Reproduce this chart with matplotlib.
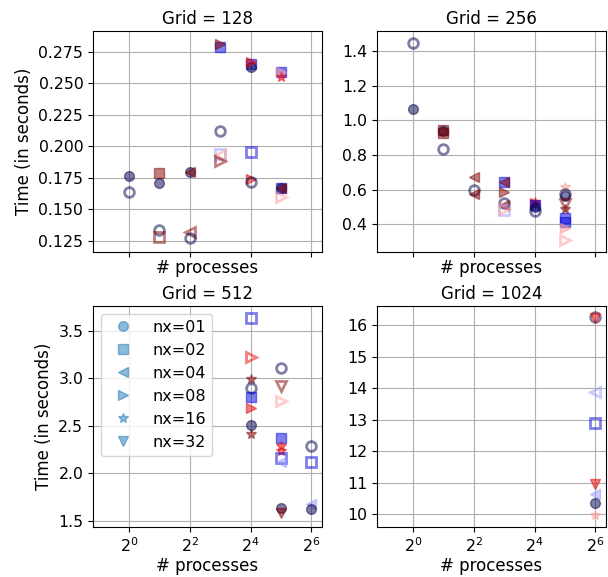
import matplotlib
matplotlib.use('Agg')
import matplotlib.pyplot as plt
from matplotlib.lines import Line2D
from matplotlib.ticker import LogFormatterSciNotation, NullLocator

plt.rcParams['font.size'] = 12
plt.rcParams['xtick.labelsize'] = 11.3
plt.rcParams['ytick.labelsize'] = 11.3
plt.rcParams['axes.titlesize'] = 12
plt.rcParams['legend.fontsize'] = 11.5

nx_values = [1, 2, 4, 8, 16, 32]
nx_markers = {1: 'o', 2: 's', 4: '<', 8: '>', 16: '*', 32: 'v'}

# tone: 0 navy .. 5 dark red (seismic); solid False -> open marker
g128_procs = [1, 1, 2, 2, 2, 2, 4, 4, 4, 4, 8, 8, 8, 8, 8, 8,
              16, 16, 16, 16, 16, 16, 32, 32, 32, 32, 32, 32, 32]
g128_time = [0.1760, 0.1641, 0.1786, 0.1712, 0.1332, 0.1279, 0.1799, 0.1799, 0.1319, 0.1271,
             0.2790, 0.2810, 0.2121, 0.1937, 0.1930, 0.1879,
             0.2650, 0.2631, 0.2665, 0.1953, 0.1741, 0.1715,
             0.2591, 0.2588, 0.2547, 0.1672, 0.1672, 0.1672, 0.1596]
g128_nx = [1, 1, 2, 1, 1, 2, 1, 4, 4, 1, 2, 8, 1, 2, 4, 8,
           2, 1, 8, 2, 8, 1, 2, 8, 16, 2, 1, 4, 8]
g128_tone = [0, 0, 5, 0, 0, 5, 0, 5, 5, 0, 1, 5, 0, 2, 3, 5,
             1, 0, 4, 1, 4, 0, 1, 3, 4, 1, 0, 5, 3]
g128_solid = [1, 0, 1, 1, 0, 0, 1, 1, 0, 0, 1, 1, 0, 0, 0, 0,
              1, 1, 1, 0, 1, 0, 1, 1, 1, 1, 1, 1, 0]

g256_procs = [1, 1, 2, 2, 2, 2, 4, 4, 4, 8, 8, 8, 8, 8, 8, 8,
              16, 16, 16, 16, 16, 32, 32, 32, 32, 32, 32, 32, 32, 32]
g256_time = [1.448, 1.067, 0.945, 0.940, 0.925, 0.834, 0.675, 0.596, 0.573,
             0.646, 0.646, 0.588, 0.524, 0.510, 0.481, 0.490,
             0.530, 0.520, 0.510, 0.500, 0.478,
             0.615, 0.572, 0.565, 0.518, 0.485, 0.437, 0.412, 0.379, 0.307]
g256_nx = [1, 1, 2, 1, 2, 1, 4, 1, 4, 2, 4, 8, 1, 4, 2, 8,
           16, 8, 2, 1, 1, 16, 1, 1, 32, 16, 2, 2, 8, 8]
g256_tone = [0, 0, 5, 0, 5, 0, 5, 0, 5, 1, 5, 5, 0, 5, 2, 3,
             4, 4, 1, 0, 0, 3, 0, 0, 5, 5, 1, 1, 3, 3]
g256_solid = [0, 1, 1, 1, 1, 0, 1, 0, 1, 1, 1, 1, 0, 1, 0, 0,
              1, 1, 1, 1, 0, 1, 0, 1, 0, 1, 1, 1, 1, 0]

g512_procs = [16, 16, 16, 16, 16, 16, 16, 16,
              32, 32, 32, 32, 32, 32, 32, 32, 32, 32, 64, 64, 64, 64]
g512_time = [3.631, 3.228, 2.988, 2.892, 2.804, 2.687, 2.504, 2.415,
             3.104, 2.917, 2.765, 2.369, 2.291, 2.228, 2.157, 2.122, 1.638, 1.581,
             2.281, 2.115, 1.673, 1.620]
g512_nx = [2, 8, 16, 1, 2, 8, 1, 16,
           1, 32, 8, 2, 16, 16, 2, 4, 1, 32, 1, 2, 4, 1]
g512_tone = [1, 4, 5, 0, 1, 4, 0, 5,
             0, 5, 3, 1, 4, 4, 1, 2, 0, 5, 0, 1, 2, 0]
g512_solid = [0, 0, 1, 0, 1, 1, 1, 1,
              0, 0, 0, 1, 1, 1, 0, 1, 1, 1, 0, 0, 1, 1]

g1024_procs = [64, 64, 64, 64, 64, 64, 64, 64]
g1024_time = [16.245, 16.21, 13.87, 12.91, 10.95, 10.64, 10.37, 9.99]
g1024_nx = [1, 32, 4, 2, 32, 4, 1, 16]
g1024_tone = [0, 4, 2, 1, 4, 2, 0, 3]
g1024_solid = [0, 1, 0, 0, 1, 1, 1, 1]

panels = [
    ('Grid = 128', g128_procs, g128_time, g128_nx, g128_tone, g128_solid,
     (0.1158, 0.2914), [0.125, 0.150, 0.175, 0.200, 0.225, 0.250, 0.275]),
    ('Grid = 256', g256_procs, g256_time, g256_nx, g256_tone, g256_solid,
     (0.237, 1.516), [0.4, 0.6, 0.8, 1.0, 1.2, 1.4]),
    ('Grid = 512', g512_procs, g512_time, g512_nx, g512_tone, g512_solid,
     (1.433, 3.765), [1.5, 2.0, 2.5, 3.0, 3.5]),
    ('Grid = 1024', g1024_procs, g1024_time, g1024_nx, g1024_tone, g1024_solid,
     (9.6, 16.62), [10, 11, 12, 13, 14, 15, 16]),
]

fig, axes = plt.subplots(2, 2, figsize=(6.08, 5.77), dpi=100, sharex=True)
fig.subplots_adjust(left=0.153, right=0.9967, top=0.9463, bottom=0.0867,
                    wspace=0.24, hspace=0.24)

cmap = plt.cm.seismic
for ax, (title, procs, times, nxs, tones, solids, ylim, yticks) in zip(axes.flat, panels):
    for p, t, n, c, s in zip(procs, times, nxs, tones, solids):
        col = cmap(c / 5)
        ax.plot(p, t, ls='', marker=nx_markers[n], ms=7, color=col, alpha=0.5,
                mfc=col if s else 'none', mew=1 if s else 2)
    ax.set_xscale('log', base=2)
    ax.set_xlim(2 ** -1.18, 2 ** 6.35)
    ax.set_xticks([1, 4, 16, 64])
    ax.xaxis.set_major_formatter(LogFormatterSciNotation(base=2))
    ax.xaxis.set_minor_locator(NullLocator())
    ax.set_ylim(ylim)
    ax.set_yticks(yticks)
    ax.grid(True)
    ax.set_title(title, pad=5)
    ax.set_xlabel('# processes', labelpad=1)

axes[0, 0].set_ylabel('Time (in seconds)')
axes[1, 0].set_ylabel('Time (in seconds)')

handles = [Line2D([], [], ls='', marker=nx_markers[n], ms=7, color='C0', alpha=0.5)
           for n in nx_values]
axes[1, 0].legend(handles, ['nx=%02d' % n for n in nx_values], loc='upper left')

fig.savefig('out.png', dpi=100)
